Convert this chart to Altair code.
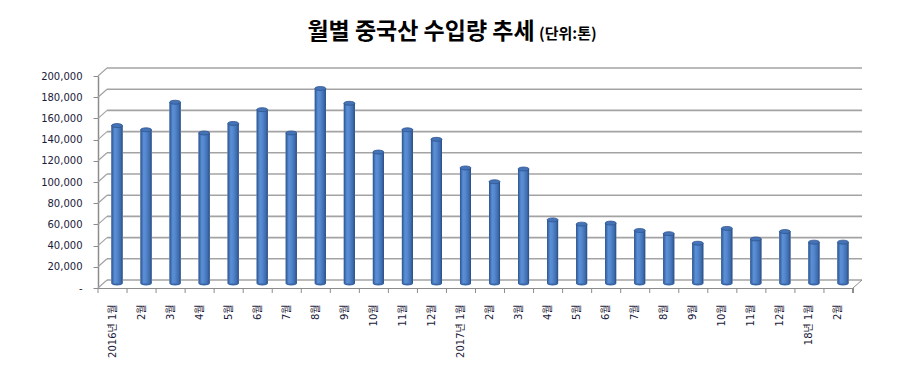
import json
import altair as alt
import pandas as pd

# ---- data ----
labels = ["2016년 1월", "2월", "3월", "4월", "5월", "6월", "7월", "8월", "9월", "10월", "11월", "12월",
          "2017년 1월", "2월", "3월", "4월", "5월", "6월", "7월", "8월", "9월", "10월", "11월", "12월",
          "18년 1월", "2월"]
values = [149000, 145000, 171000, 142000, 151000, 164000, 142000, 184000, 170000, 124000, 145000, 136000,
          109000, 96000, 108000, 60000, 56000, 57000, 50000, 47000, 38000, 52000, 42000, 49000, 39000, 39000]
y_ticks = list(range(0, 200001, 20000))
title_main = "월별 중국산 수입량 추세"
title_unit = "(단위:톤)"

# ---- layout ----
W, H = 755, 212
DX, DY = 9, -8        # back wall offset (3D look)
BX, BY = 4.5, -4.5    # bar depth offset
STEP = W / len(labels)
ELL = "M-1,0A1,0.36,0,1,1,1,0A1,0.36,0,1,1,-1,0Z"
FONT = "DejaVu Sans, Noto Sans CJK KR"
LBL = "#1a1a3a"
AXC = "#8c8c8c"

df = pd.DataFrame({"idx": list(range(len(labels))), "value": values})
grid_df = pd.DataFrame({"v": y_ticks})

label_expr = json.dumps(labels, ensure_ascii=False) + "[datum.value]"
xscale = alt.Scale(paddingInner=0, paddingOuter=0)
yscale = alt.Scale(domain=[0, 200000], nice=False)

x_axis = alt.Axis(title=None, labelAngle=270, labelExpr=label_expr, ticks=False,
                  domain=True, domainColor=AXC, domainWidth=1,
                  labelFont=FONT, labelFontSize=10, labelColor=LBL,
                  labelPadding=16)
y_axis = alt.Axis(title=None, values=y_ticks, grid=False,
                  labelExpr="datum.value == 0 ? '-' : format(datum.value, ',')",
                  domainColor=AXC, domainWidth=1.5, tickColor=AXC, tickSize=5,
                  labelPadding=11, labelFont=FONT, labelFontSize=10,
                  labelColor=LBL)


def X(f="idx:O"):
    return alt.X(f, scale=xscale, axis=x_axis)


def Y(f):
    return alt.Y(f, scale=yscale, axis=y_axis)


grad = alt.Gradient(
    gradient="linear", x1=0, x2=1, y1=0, y2=0,
    stops=[alt.GradientStop(color="#2c5490", offset=0),
           alt.GradientStop(color="#5a8fd6", offset=0.28),
           alt.GradientStop(color="#5487ce", offset=0.5),
           alt.GradientStop(color="#3e6cae", offset=0.82),
           alt.GradientStop(color="#284c84", offset=1)])

base = alt.Chart(df)

bars = base.mark_bar(size=11, color=grad, xOffset=BX, yOffset=BY, y2Offset=BY).encode(
    x=X(), y=Y("value:Q"))

# back-wall gridlines
grid = alt.Chart(grid_df).mark_rule(color="#a3a3a3", strokeWidth=1.6, yOffset=DY).encode(
    y=Y("v:Q"), x=alt.value(DX), x2=alt.value(W + DX))

# left diagonals from front axis to back wall
diag = alt.Chart(grid_df).mark_rule(color="#a3a3a3", strokeWidth=1.2, y2Offset=DY).encode(
    y=Y("v:Q"), y2=alt.Y2("v"), x=alt.value(0), x2=alt.value(DX))

# right floor diagonal
rdiag = alt.Chart(pd.DataFrame({"v": [0]})).mark_rule(color=AXC, strokeWidth=1, y2Offset=DY).encode(
    y=Y("v:Q"), y2=alt.Y2("v"), x=alt.value(W), x2=alt.value(W + DX))

# x tick marks at band boundaries
xticks = base.mark_rule(color=AXC, strokeWidth=1, xOffset=-STEP / 2).encode(
    x=X(), y=alt.value(H), y2=alt.value(H + 5))
xtick_end = base.mark_rule(color=AXC, strokeWidth=1).encode(
    x=alt.value(W), y=alt.value(H), y2=alt.value(H + 5))

bottom = base.transform_calculate(zero="0").mark_point(
    shape=ELL, size=121, filled=True, opacity=1, color="#3a66a6",
    xOffset=BX, yOffset=BY).encode(x=X(), y=Y("zero:Q"))

top = base.mark_point(shape=ELL, size=121, filled=True, opacity=1, color="#4573b6",
                      stroke="#2d5490", strokeWidth=0.8,
                      xOffset=BX, yOffset=BY).encode(x=X(), y=Y("value:Q"))

t_main = alt.Chart(pd.DataFrame({"t": [title_main]})).mark_text(
    font="Noto Sans CJK KR", fontSize=23, fontWeight="bold", color="#000000",
    align="center", baseline="alphabetic").encode(
    text="t:N", x=alt.value(323), y=alt.value(-37))

t_unit = alt.Chart(pd.DataFrame({"t": [title_unit]})).mark_text(
    font="Noto Sans CJK KR", fontSize=15, fontWeight="bold", color="#000000",
    align="left", baseline="alphabetic").encode(
    text="t:N", x=alt.value(441), y=alt.value(-37))

chart = alt.layer(bars, grid, diag, rdiag, xticks, xtick_end, bottom, bars, top, t_main, t_unit).properties(
    width=W, height=H,
    autosize=alt.AutoSizeParams(type="none"),
    padding={"left": 90, "top": 68, "right": 39, "bottom": 88},
    background="white",
).configure_view(stroke=None)

chart.save("out.html", embed_options={"renderer": "svg", "actions": False})
